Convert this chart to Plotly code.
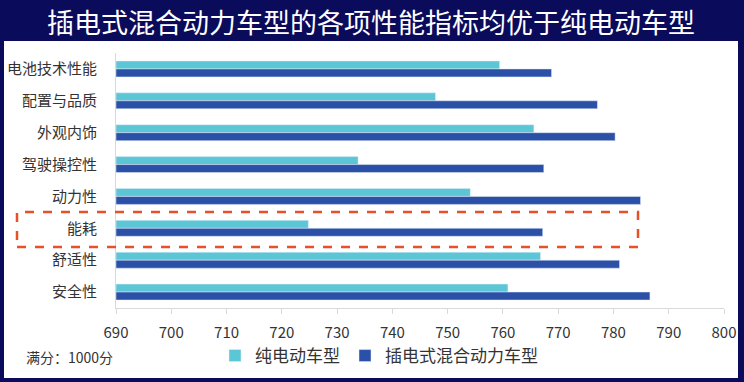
import plotly.graph_objects as go

categories = ["电池技术性能", "配置与品质", "外观内饰", "驾驶操控性", "动力性", "能耗", "舒适性", "安全性"]
bev_values = [759.4, 747.8, 765.6, 733.8, 754.1, 724.8, 766.8, 760.9]
phev_values = [768.8, 777.1, 780.3, 767.4, 784.9, 767.2, 781.1, 786.6]
series_names = ["纯电动车型", "插电式混合动力车型"]
x_ticks = [690, 700, 710, 720, 730, 740, 750, 760, 770, 780, 790, 800]

W, H = 744, 382
FONT = "Noto Sans CJK SC"
NAVY = "#0b0b5b"

fig = go.Figure()
fig.add_trace(go.Bar(y=categories, x=[v - 690 for v in bev_values], base=690,
                     orientation="h", name=series_names[0], marker_color="#5bc6d6",
                     hoverinfo="skip"))
fig.add_trace(go.Bar(y=categories, x=[v - 690 for v in phev_values], base=690,
                     orientation="h", name=series_names[1], marker_color="#2a50a8",
                     hoverinfo="skip"))

def px(x):
    return x / W

def py(y):
    return 1 - y / H

fig.update_layout(
    width=W, height=H,
    margin=dict(l=0, r=0, t=0, b=0),
    paper_bgcolor=NAVY,
    plot_bgcolor="white",
    barmode="group",
    bargap=0.5,
    bargroupgap=0,
    font=dict(family=FONT, color="#404040"),
    xaxis=dict(
        domain=[px(116), px(724)],
        range=[690, 800],
        tickvals=x_ticks,
        showgrid=False,
        zeroline=False,
        automargin=False,
        showline=True, linecolor="#d9d9d9", linewidth=1,
        ticks="outside", ticklen=5, tickcolor="#d9d9d9",
        tickfont=dict(size=15, color="#333333"),
        ticklabelstandoff=6,
    ),
    yaxis=dict(
        domain=[py(308), py(53)],
        autorange="reversed",
        showgrid=False,
        automargin=False,
        showline=True, linecolor="#d9d9d9", linewidth=1,
        ticks="",
        tickfont=dict(size=15, color="#333333"),
        ticklabelstandoff=15,
    ),
    legend=dict(
        orientation="h",
        x=px(215), y=py(356), xanchor="left", yanchor="middle",
        font=dict(size=17, color="#333333"),
        bgcolor="rgba(0,0,0,0)",
        itemwidth=30,
        traceorder="normal",
    ),
    showlegend=True,
)

# white panel
fig.add_shape(type="rect", xref="paper", yref="paper",
              x0=px(4), x1=px(738), y0=py(378), y1=py(41),
              fillcolor="white", line=dict(width=0), layer="below")
# highlight dashed box
fig.add_shape(type="rect", xref="paper", yref="paper",
              x0=px(17), x1=px(638), y0=py(247), y1=py(212),
              fillcolor="rgba(0,0,0,0)", line=dict(color="#e8502a", width=2.5, dash="dash"))

fig.add_annotation(text="插电式混合动力车型的各项性能指标均优于纯电动车型",
                   xref="paper", yref="paper", x=px(371), y=py(21),
                   xanchor="center", yanchor="middle", showarrow=False,
                   font=dict(family=FONT, size=27, color="white"))
fig.add_annotation(text="满分：1000分",
                   xref="paper", yref="paper", x=px(24), y=py(357),
                   xanchor="left", yanchor="middle", showarrow=False,
                   font=dict(family=FONT, size=14, color="#333333"))

fig.write_html("out.html", config={"displayModeBar": False},
               post_script="document.body.style.margin='0';document.body.style.overflow='hidden';")
